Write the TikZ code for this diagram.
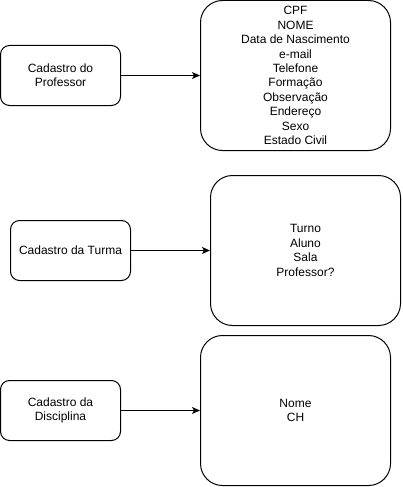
\documentclass[tikz,border=0pt]{standalone}
\usepackage{fontspec}
\setmainfont{Liberation Sans}
\usetikzlibrary{arrows.meta}
\begin{document}
\begin{tikzpicture}[x=1pt,y=-1pt,
  smallbox/.style={draw,line width=1pt,rounded corners=9pt,minimum width=120pt,minimum height=60pt,inner sep=0pt,align=center,font=\fontsize{12}{14.4}\selectfont},
  bigbox/.style={draw,line width=1pt,rounded corners=22pt,minimum width=190pt,minimum height=150pt,inner sep=0pt,align=center,font=\fontsize{12}{14.4}\selectfont},
  conn/.style={line width=1pt,-{Stealth[length=8pt,width=7pt,inset=2pt]}}]
\useasboundingbox (0,0) rectangle (402,487);
\node[smallbox] (p) at (60.5,75.5) {Cadastro do\\Professor};
\node[bigbox] (pa) at (295.5,75.5) {CPF\\NOME\\Data de Nascimento\\e-mail\\Telefone\\Formação\\Observação\\Endereço\\Sexo\\Estado Civil};
\node[smallbox] (t) at (70.5,250.5) {Cadastro da Turma};
\node[bigbox] (ta) at (305.5,250.5) {Turno\\Aluno\\Sala\\Professor?};
\node[smallbox] (d) at (60.5,410.5) {Cadastro da\\Disciplina};
\node[bigbox] (da) at (295.5,410.5) {Nome\\CH};
\draw[conn] (p) -- (pa);
\draw[conn] (t) -- (ta);
\draw[conn] (d) -- (da);
\end{tikzpicture}
\end{document}
